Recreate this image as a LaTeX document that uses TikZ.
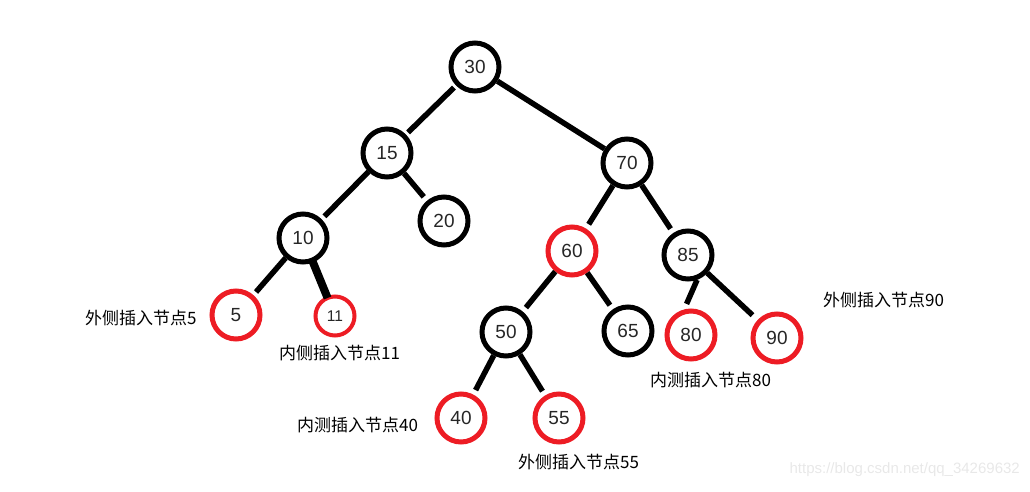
\documentclass[tikz,border=0pt]{standalone}
\usepackage{fontspec}
\setmainfont{Liberation Sans}
\newfontfamily\cjk{Noto Sans CJK SC}
\definecolor{pred}{RGB}{237,28,36}
\definecolor{wm}{RGB}{232,232,232}
\tikzset{
  tn/.style={circle, draw=black, line width=5pt, minimum size=48pt, inner sep=0pt, font=\fontsize{19}{21}\selectfont, text=black!85},
  rn/.style={tn, draw=pred},
  edge/.style={line width=5.5pt, draw=black},
  lbl/.style={anchor=west, inner sep=0pt, font=\cjk\fontsize{17}{20}\selectfont},
}
\begin{document}
\begin{tikzpicture}[x=1pt, y=-1pt]
\useasboundingbox (0,0) rectangle (1030,492);
\node[tn] (n30) at (475,67) {30};
\node[tn] (n15) at (387,153) {15};
\node[tn] (n70) at (627,163) {70};
\node[tn] (n10) at (303,238) {10};
\node[tn] (n20) at (444,221) {20};
\node[rn] (n60) at (572,251) {60};
\node[tn] (n85) at (688,255) {85};
\node[rn] (n5) at (236,315) {5};
\node[rn, minimum size=39pt, line width=4pt, font=\fontsize{15.5}{17}\selectfont] (n11) at (335,316) {11};
\node[tn] (n50) at (506,332) {50};
\node[tn] (n65) at (628,331) {65};
\node[rn] (n80) at (691,335) {80};
\node[rn] (n90) at (777,338) {90};
\node[rn] (n40) at (461,418) {40};
\node[rn] (n55) at (559,418) {55};

\draw[edge, shorten <=3pt, shorten >=3pt] (n30) -- (n15);
\draw[edge] (n30) -- (n70);
\draw[edge, shorten >=4pt] (n15) -- (n10);
\draw[edge, shorten >=5pt] (n15) -- (n20);
\draw[edge, shorten >=5pt] (n70) -- (n60);
\draw[edge, shorten >=5pt] (n70) -- (n85);
\draw[edge, shorten >=4pt] (n10) -- (n5);
\draw[line width=8pt, shorten <=-3pt, shorten >=-2pt] (n10) -- (n11);
\draw[edge, shorten >=5pt] (n60) -- (n50);
\draw[edge, shorten >=5pt] (n60) -- (n65);
\draw[edge, shorten >=6pt] (n85.-70) -- (n80.105);
\draw[edge, shorten >=7pt] (n85) -- (n90);
\draw[edge, shorten >=5pt] (n50) -- (n40);
\draw[edge, shorten >=5pt] (n50) -- (n55);

\node[lbl] (l5) at (85,318) {外侧插入节点5};
\node[lbl] (l11) at (279,353) {内侧插入节点11};
\node[lbl] (l90) at (823,300) {外侧插入节点90};
\node[lbl] (l80) at (650,380) {内测插入节点80};
\node[lbl] (l40) at (297,425) {内测插入节点40};
\node[lbl] (l55) at (518,462) {外侧插入节点55};
\node[anchor=east, inner sep=0pt, text=wm, font=\fontsize{15}{17}\selectfont] (wm) at (1020,470) {https://blog.csdn.net/qq\_34269632};
\end{tikzpicture}
\end{document}
